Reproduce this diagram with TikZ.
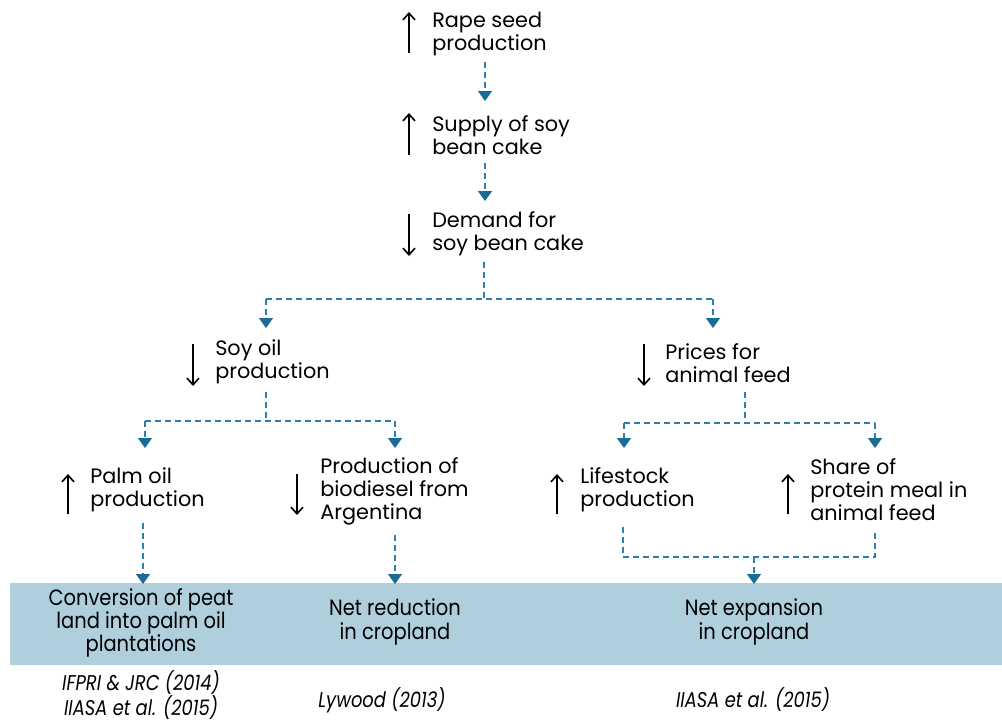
\documentclass[tikz,border=0pt]{standalone}
\usepackage{fontspec}
\setmainfont{Poppins}
\newfontfamily\condfont[FakeStretch=0.88]{Poppins}
\newfontfamily\citefont[FakeStretch=0.84]{Poppins}
\usetikzlibrary{arrows.meta}
\definecolor{dashblue}{RGB}{46,128,168}
\definecolor{headblue}{RGB}{24,108,150}
\definecolor{bandblue}{RGB}{175,207,220}
\tikzset{
  lbl/.style={anchor=west,align=left,inner sep=0pt,font=\fontsize{15.6}{17.3}\selectfont},
  bandtxt/.style={align=center,inner sep=0pt,font=\condfont\fontsize{16.6}{17.5}\selectfont},
  cite/.style={align=center,inner sep=0pt,font=\citefont\itshape\fontsize{16}{16}\selectfont},
  dline/.style={draw=dashblue,line width=1.1pt,dash pattern=on 4.5pt off 3pt},
  darrow/.style={dline,-{Triangle[width=10.5pt,length=7.5pt,fill=headblue,color=headblue]}},
  updown/.style={line width=1.2pt,-{Straight Barb[length=5pt,width=9pt]}}
}
\begin{document}
\begin{tikzpicture}[x=0.75pt,y=-0.75pt]
\useasboundingbox (0,0) rectangle (1002,722);
% band
\fill[bandblue] (10,583) rectangle (1002,665);
% top chain
\node[lbl] (rape) at (432,34) {Rape seed\\production};
\draw[updown] (409,53) -- (409,12);
\node[lbl] (supply) at (432,135) {Supply of soy\\bean cake};
\draw[updown] (409,155) -- (409,113);
\node[lbl] (demand) at (432,234) {Demand for\\soy bean cake};
\draw[updown] (409,214) -- (409,256);
% second level
\node[lbl] (soy) at (215,362) {Soy oil\\production};
\draw[updown] (193,344) -- (193,386);
\node[lbl] (prices) at (665,363) {Prices for\\animal feed};
\draw[updown] (644,344) -- (644,386);
% third level
\node[lbl] (palm) at (90,490) {Palm oil\\production};
\draw[updown] (68,514) -- (68,474);
\node[lbl] (bio) at (320,491) {Production of\\biodiesel from\\Argentina};
\draw[updown] (297,474) -- (297,515);
\node[lbl] (life) at (580,490) {Lifestock\\production};
\draw[updown] (557,514) -- (557,474);
\node[lbl] (share) at (810,490) {Share of\\protein meal in\\animal feed};
\draw[updown] (788,514) -- (788,474);
% band texts
\node[bandtxt] (conv) at (141,623) {Conversion of peat\\land into palm oil\\plantations};
\node[bandtxt] (netred) at (395,622) {Net reduction\\in cropland};
\node[bandtxt] (netexp) at (754,622) {Net expansion\\in cropland};
% citations
\node[cite] (c1) at (141,695) {IFPRI \& JRC (2014)\\IIASA et al. (2015)};
\node[cite] (c2) at (382,700) {Lywood (2013)};
\node[cite] (c3) at (753,700) {IIASA et al. (2015)};
% coordinates
\coordinate (r0) at (485,62);
\coordinate (r1) at (485,101);
\coordinate (s0) at (485,163);
\coordinate (s1) at (485,201);
\coordinate (d0) at (484,262);
\coordinate (dj) at (484,299);
\coordinate (dl) at (266,299);
\coordinate (dr) at (713,299);
\coordinate (dlt) at (266,328);
\coordinate (drt) at (713,328);
\coordinate (so0) at (266,392);
\coordinate (soj) at (266,421);
\coordinate (sol) at (145,421);
\coordinate (sor) at (395,421);
\coordinate (solt) at (145,448);
\coordinate (sort) at (395,448);
\coordinate (p0) at (745,392);
\coordinate (pj) at (745,423);
\coordinate (pl) at (624,423);
\coordinate (pr) at (875,423);
\coordinate (plt) at (624,448);
\coordinate (prt) at (875,448);
\coordinate (pa0) at (143,523);
\coordinate (pa1) at (143,584);
\coordinate (b0) at (395,535);
\coordinate (b1) at (395,584);
\coordinate (l0) at (623,527);
\coordinate (lj) at (623,557);
\coordinate (sh0) at (875,531);
\coordinate (shj) at (875,557);
\coordinate (m0) at (754,557);
\coordinate (m1) at (754,584);
% connectors
\draw[darrow] (r0) -- (r1);
\draw[darrow] (s0) -- (s1);
\draw[dline] (d0) -- (dj);
\draw[dline] (dl) -- (dr);
\draw[darrow] (dl) -- (dlt);
\draw[darrow] (dr) -- (drt);
\draw[dline] (so0) -- (soj);
\draw[dline] (sol) -- (sor);
\draw[darrow] (sol) -- (solt);
\draw[darrow] (sor) -- (sort);
\draw[dline] (p0) -- (pj);
\draw[dline] (pl) -- (pr);
\draw[darrow] (pl) -- (plt);
\draw[darrow] (pr) -- (prt);
\draw[darrow] (pa0) -- (pa1);
\draw[darrow] (b0) -- (b1);
\draw[dline] (l0) -- (lj) -- (shj) -- (sh0);
\draw[darrow] (m0) -- (m1);
\end{tikzpicture}
\end{document}
